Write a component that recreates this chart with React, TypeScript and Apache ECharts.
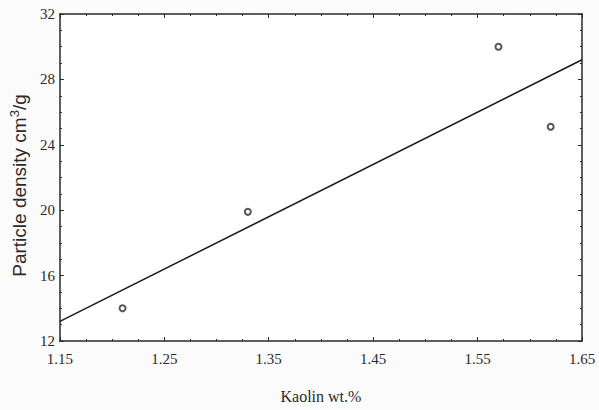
import React, { useEffect, useRef } from "react";
import * as echarts from "echarts";

const kaolin = [1.21, 1.33, 1.57, 1.62];
const density = [14, 19.9, 30, 25.1];
const fitX = [1.15, 1.65];
const fitY = [13.2, 29.2];
const xTicks = { min: 1.15, max: 1.65, interval: 0.1 };
const yTicks = { min: 12, max: 32, interval: 4 };

const serif = "Liberation Serif";
const ink = "#2a2a2a";

export default function App() {
  const ref = useRef<HTMLDivElement>(null);
  useEffect(() => {
    const chart = echarts.init(ref.current!, null, { renderer: "svg" });
    const axisCommon = {
      axisLine: { show: true, lineStyle: { color: ink, width: 1.5 } },
      axisTick: { show: true, inside: true, length: 4, lineStyle: { color: ink } },
      minorTick: { show: true, splitNumber: 4, length: 2, lineStyle: { color: ink } },
      splitLine: { show: false },
    };
    chart.setOption({
      animation: false,
      backgroundColor: "#fbfbfb",
      grid: {
        left: 57,
        right: 17,
        top: 14,
        bottom: 69,
        show: true,
        backgroundColor: "#ffffff",
        borderWidth: 0,
      },
      xAxis: [
        {
          type: "value",
          ...xTicks,
          ...axisCommon,
          name: "Kaolin wt.%",
          nameLocation: "middle",
          nameGap: 47,
          nameTextStyle: { fontFamily: serif, fontSize: 16, color: ink },
          axisLabel: {
            fontFamily: serif,
            fontSize: 15,
            color: ink,
            margin: 10,
            formatter: (v: number) => v.toFixed(2),
          },
        },
        {
          type: "value",
          position: "top",
          ...xTicks,
          ...axisCommon,
          axisLabel: { show: false },
        },
      ],
      yAxis: [
        {
          type: "value",
          ...yTicks,
          ...axisCommon,
          name: "Particle density cm{sup|3}/g",
          nameLocation: "middle",
          nameGap: 27,
          nameTextStyle: {
            fontFamily: "Liberation Sans",
            fontSize: 19,
            color: ink,
            padding: [0, 16, 0, 0],
            rich: {
              sup: {
                fontFamily: "Liberation Sans",
                fontSize: 13,
                color: ink,
                verticalAlign: "top",
                padding: [0, 0, 10, 0],
              },
            },
          },
          axisLabel: { fontFamily: serif, fontSize: 15, color: ink, margin: 5 },
        },
        {
          type: "value",
          position: "right",
          ...yTicks,
          ...axisCommon,
          axisLabel: { show: false },
        },
      ],
      series: [
        {
          type: "line",
          data: fitX.map((x, i) => [x, fitY[i]]),
          showSymbol: false,
          lineStyle: { color: "#1a1a1a", width: 1.5 },
          z: 2,
        },
        {
          type: "scatter",
          data: kaolin.map((x, i) => [x, density[i]]),
          symbol: "emptyCircle",
          symbolSize: 6,
          itemStyle: { color: ink, borderWidth: 1 },
          z: 3,
        },
      ],
    });
    return () => chart.dispose();
  }, []);
  return <div ref={ref} style={{ width: 599, height: 410, position: "absolute", left: 0, top: 0 }} />;
}
